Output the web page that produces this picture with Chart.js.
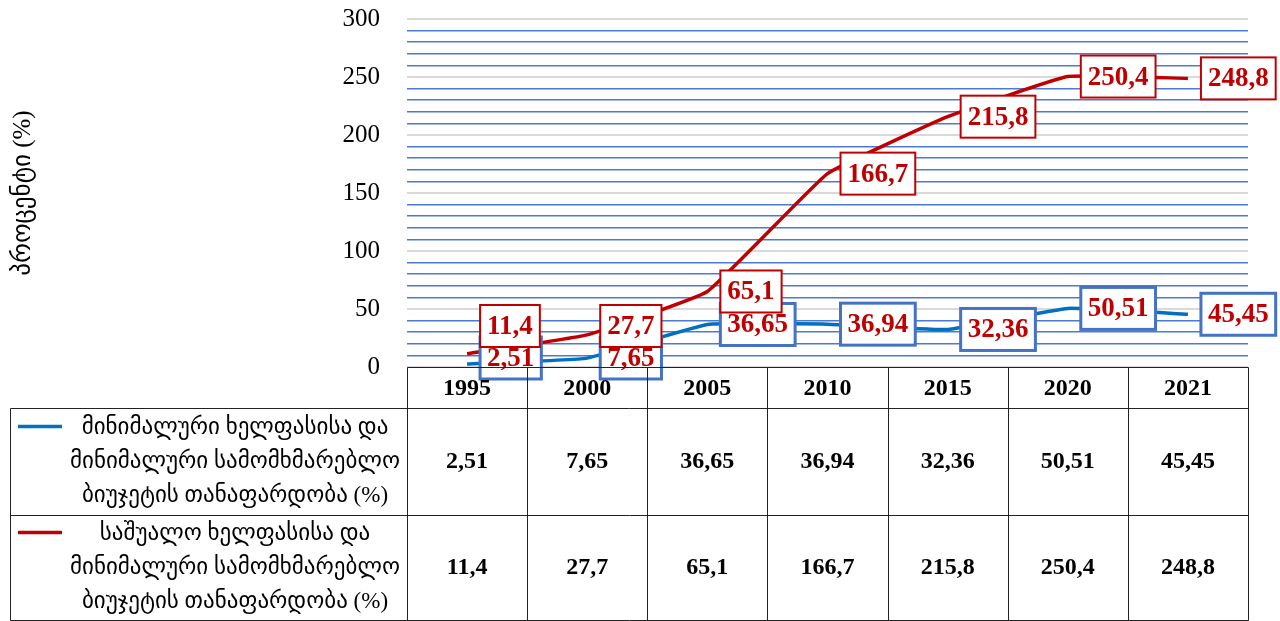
<!DOCTYPE html>
<html>
<head>
<meta charset="utf-8">
<script src="https://cdn.jsdelivr.net/npm/chart.js@4.4.0/dist/chart.umd.min.js"></script>
<style>
  body { margin: 0; background: #fff; }
  canvas { display: block; }
</style>
</head>
<body>
<canvas id="wageChart" width="1280" height="621"></canvas>
<script>
// ===== Data =====
const years = ['1995', '2000', '2005', '2010', '2015', '2020', '2021'];
const minWageRatio = [2.51, 7.65, 36.65, 36.94, 32.36, 50.51, 45.45];
const avgWageRatio = [11.4, 27.7, 65.1, 166.7, 215.8, 250.4, 248.8];
const seriesNames = [
    ['მინიმალური ხელფასისა და', 'მინიმალური სამომხმარებლო', 'ბიუჯეტის თანაფარდობა (%)'],
    ['საშუალო ხელფასისა და', 'მინიმალური სამომხმარებლო', 'ბიუჯეტის თანაფარდობა (%)']
];
const yTitle = 'პროცენტი (%)';

const FONT = "'Liberation Serif', 'DejaVu Sans', serif";
const BLUE = '#0070c0';
const RED = '#c00000';
const fmt = v => String(v).replace('.', ',');

// ===== Plugin: boxed data labels =====
const boxLabels = {
    id: 'boxLabels',
    afterDatasetsDraw(chart) {
        const ctx = chart.ctx;
        const area = chart.chartArea;
        const h = 42;
        ctx.save();
        ctx.font = 'bold 27px ' + FONT;
        ctx.textAlign = 'center';
        ctx.textBaseline = 'middle';
        const blueMeta = chart.getDatasetMeta(0).data;
        const redMeta = chart.getDatasetMeta(1).data;
        const boxes = [];
        years.forEach((y, i) => {
            const b = blueMeta[i], r = redMeta[i];
            let by = Math.min(b.y, area.bottom + 12 - h / 2);
            let ry = r.y;
            if (Math.abs(ry - by) < h * 0.7) ry = by - h + 10;
            boxes.push({ x: b.x + 13, y: by, text: fmt(minWageRatio[i]), border: '#4472c4', lw: 3 });
            boxes.push({ x: r.x + 13, y: ry, text: fmt(avgWageRatio[i]), border: RED, lw: 2, red: true });
        });
        // blue first, red on top
        boxes.sort((a, b) => (a.red ? 1 : 0) - (b.red ? 1 : 0)).forEach(bx => {
            const w = ctx.measureText(bx.text).width + 14;
            ctx.fillStyle = '#fff';
            ctx.fillRect(bx.x, bx.y - h / 2, w, h);
            ctx.strokeStyle = bx.border;
            ctx.lineWidth = bx.lw;
            ctx.strokeRect(bx.x, bx.y - h / 2, w, h);
            ctx.fillStyle = RED;
            ctx.fillText(bx.text, bx.x + w / 2, bx.y + 1);
        });
        ctx.restore();
    }
};

// ===== Plugin: data table under the plot =====
const dataTable = {
    id: 'dataTable',
    afterDraw(chart) {
        const ctx = chart.ctx;
        const area = chart.chartArea;
        const xs = chart.scales.x;
        const top = area.bottom;
        const headBottom = top + 41;
        const row1Bottom = headBottom + 107;
        const row2Bottom = chart.height - 1;
        const left = 10;
        const half = (xs.getPixelForValue(1) - xs.getPixelForValue(0)) / 2;

        ctx.save();
        ctx.strokeStyle = '#222';
        ctx.lineWidth = 1;
        const line = (x1, y1, x2, y2) => {
            ctx.beginPath();
            ctx.moveTo(Math.round(x1) + 0.5, Math.round(y1) + 0.5);
            ctx.lineTo(Math.round(x2) + 0.5, Math.round(y2) + 0.5);
            ctx.stroke();
        };
        line(area.left, top, area.right, top);
        line(left, headBottom, area.right, headBottom);
        line(left, row1Bottom, area.right, row1Bottom);
        line(left, row2Bottom, area.right, row2Bottom);
        line(left, headBottom, left, row2Bottom);
        line(area.left, top, area.left, row2Bottom);
        years.forEach((y, i) => {
            line(xs.getPixelForValue(i) + half, top, xs.getPixelForValue(i) + half, row2Bottom);
        });

        ctx.fillStyle = '#000';
        ctx.textAlign = 'center';
        ctx.textBaseline = 'middle';
        const rowMid = [(headBottom + row1Bottom) / 2, (row1Bottom + row2Bottom) / 2];
        const values = [minWageRatio, avgWageRatio];
        years.forEach((y, i) => {
            const cx = xs.getPixelForValue(i);
            ctx.font = 'bold 24px ' + FONT;
            ctx.fillText(y, cx, (top + headBottom) / 2 + 1);
            values.forEach((vals, s) => ctx.fillText(fmt(vals[i]), cx, rowMid[s]));
        });

        // legend cells
        ctx.font = '23px ' + FONT;
        [BLUE, RED].forEach((col, s) => {
            const lines = seriesNames[s];
            const y0 = rowMid[s] - 34;
            lines.forEach((t, k) => ctx.fillText(t, 235, y0 + k * 34));
            ctx.strokeStyle = col;
            ctx.lineWidth = 3.5;
            ctx.beginPath();
            ctx.moveTo(18, y0 - 1);
            ctx.lineTo(62, y0 - 1);
            ctx.stroke();
        });
        ctx.restore();
    }
};

// ===== Chart =====
const ctx = document.getElementById('wageChart').getContext('2d');
new Chart(ctx, {
    type: 'line',
    data: {
        labels: years,
        datasets: [
            { label: seriesNames[0].join(' '), data: minWageRatio, borderColor: BLUE, borderWidth: 3.5, pointRadius: 0, tension: 0.1 },
            { label: seriesNames[1].join(' '), data: avgWageRatio, borderColor: RED, borderWidth: 3.5, pointRadius: 0, tension: 0.1 }
        ]
    },
    options: {
        responsive: false,
        animation: false,
        layout: { padding: { left: 8, top: 19, right: 32, bottom: 254 } },
        plugins: {
            legend: { display: false },
            tooltip: { enabled: false }
        },
        scales: {
            x: { display: false, offset: true },
            y: {
                min: 0,
                max: 300,
                border: { display: false },
                grid: {
                    drawTicks: false,
                    lineWidth: c => (c.tick && c.tick.value % 50 === 0) ? 2 : 1.5,
                    color: c => (c.tick && c.tick.value % 50 === 0) ? '#d9d9d9' : '#4a7bd0'
                },
                ticks: {
                    stepSize: 10,
                    autoSkip: false,
                    padding: 27,
                    color: '#000',
                    font: { family: FONT, size: 25 },
                    callback: v => v % 50 === 0 ? v : ''
                },
                title: {
                    display: true,
                    text: yTitle,
                    color: '#000',
                    font: { family: FONT, size: 25 },
                    padding: 0
                },
                afterFit: scale => {
                    scale.width = 399;
                    scale.paddingTop = 0;
                    scale.paddingBottom = 0;
                }
            }
        }
    },
    plugins: [boxLabels, dataTable]
});
</script>
</body>
</html>
